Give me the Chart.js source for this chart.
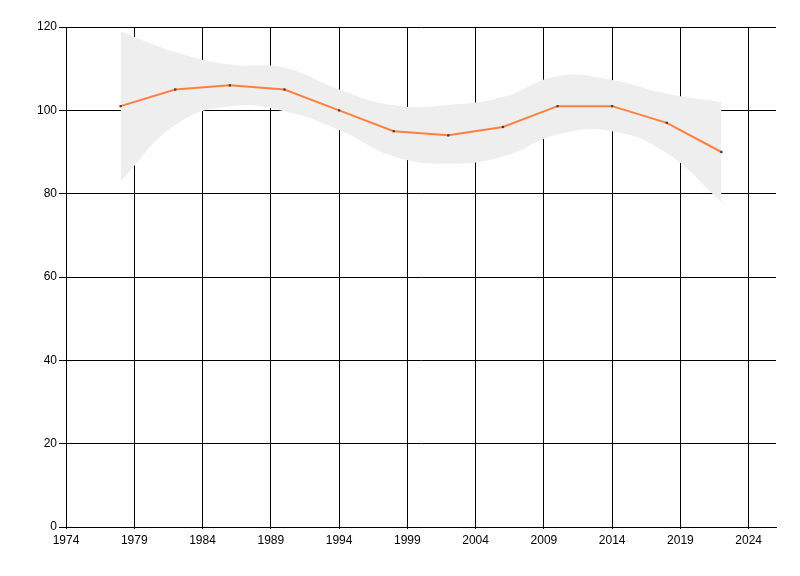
<!DOCTYPE html>
<html>
<head>
<meta charset="utf-8">
<script src="https://cdn.jsdelivr.net/npm/chart.js@4/dist/chart.umd.min.js"></script>
<style>
  html, body { margin: 0; padding: 0; background: #fff; }
  #wrap { width: 800px; height: 576px; }
</style>
</head>
<body>
<div id="wrap"><canvas id="c" width="800" height="576"></canvas></div>
<script>
// values
const years = [1978, 1982, 1986, 1990, 1994, 1998, 2002, 2006, 2010, 2014, 2018, 2022];
const values = [101, 105, 106, 105, 100, 95, 94, 96, 101, 101, 97, 90];
const bandUpper = [119, 114, 111, 110.2, 105, 101.2, 101.3, 103.2, 108.2, 107.3, 104, 102];
const bandLower = [83, 96.5, 101, 99.8, 95.3, 89, 87.2, 88.9, 94.2, 95, 89.7, 78];
const xTicks = [1974, 1979, 1984, 1989, 1994, 1999, 2004, 2009, 2014, 2019, 2024];
const yTicks = [0, 20, 40, 60, 80, 100, 120];

const pts = (arr) => years.map((y, i) => ({ x: y, y: arr[i] }));
const font = { family: 'Liberation Sans, Arial, sans-serif', size: 12 };

new Chart(document.getElementById('c'), {
  type: 'line',
  data: {
    datasets: [
      { data: pts(values), borderColor: '#ff8040', borderWidth: 2, tension: 0,
        pointStyle: 'rect', pointRadius: 1.6, pointBackgroundColor: '#404040',
        pointBorderWidth: 0, order: 0 },
      { data: pts(bandUpper), borderWidth: 0, borderColor: 'rgba(0,0,0,0)', pointRadius: 0,
        tension: 0.45, fill: '+1', backgroundColor: '#eeeeee', order: 1 },
      { data: pts(bandLower), borderWidth: 0, borderColor: 'rgba(0,0,0,0)', pointRadius: 0,
        tension: 0.45, fill: false, order: 2 },
    ],
  },
  options: {
    responsive: false, animation: false, devicePixelRatio: 1,
    layout: { padding: { top: 27, right: 24, left: 0, bottom: 0 } },
    plugins: { legend: { display: false }, tooltip: { enabled: false } },
    scales: {
      x: {
        type: 'linear', min: 1974, max: 2026,
        afterBuildTicks: (s) => { s.ticks = xTicks.map(v => ({ value: v })); },
        afterFit: (s) => { s.height = 49; },
        grid: { color: '#000', lineWidth: 1, tickLength: 2 },
        border: { color: '#000', width: 1 },
        ticks: { color: '#000', font, padding: 4, maxRotation: 0, autoSkip: false,
                 callback: (v) => String(v) },
      },
      y: {
        min: 0, max: 120,
        afterBuildTicks: (s) => { s.ticks = yTicks.map(v => ({ value: v })); },
        afterFit: (s) => { s.width = 66; },
        grid: { color: '#000', lineWidth: 1, tickLength: 7 },
        border: { color: '#000', width: 1 },
        ticks: { color: '#000', font, padding: 2 },
      },
    },
  },
});
</script>
</body>
</html>
